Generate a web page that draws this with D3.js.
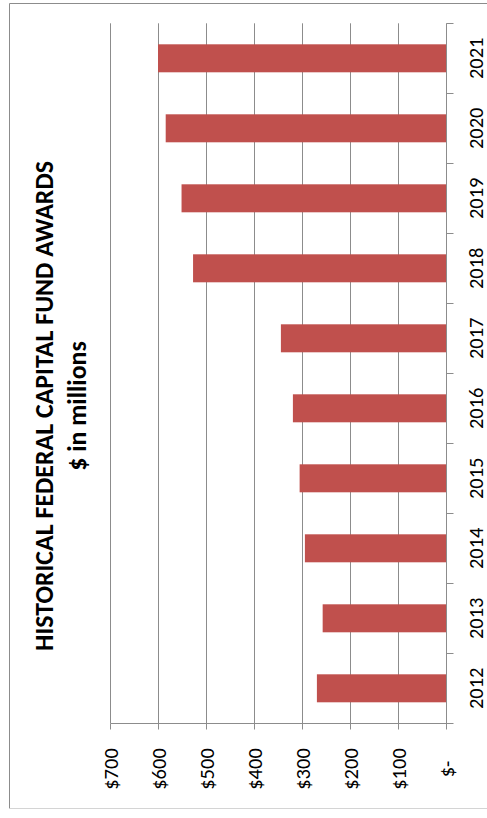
<!DOCTYPE html>
<html><head><meta charset="utf-8">
<script src="https://cdn.jsdelivr.net/npm/d3@7/dist/d3.min.js"></script>
<style>body{margin:0;background:#fff;overflow:hidden}</style>
</head><body><svg id="c" width="487" height="818"></svg>
<script>
const years = ["2012","2013","2014","2015","2016","2017","2018","2019","2020","2021"];
const awards = [270, 258, 295, 306, 320, 345, 528, 552, 585, 601];
const valueTicks = [0, 100, 200, 300, 400, 500, 600, 700];
const valueTickLabels = ["$-", "$100", "$200", "$300", "$400", "$500", "$600", "$700"];
const titleLines = ["HISTORICAL FEDERAL CAPITAL FUND AWARDS", "$ in millions"];

const font = "Carlito, Lato, sans-serif";
const gridColor = "#8c8c8c";
const barColor = "#C0504D";
const tickFont = 20.5;

const svg = d3.select("#c");

// chart frame
svg.append("line").attr("x1", 9.5).attr("x2", 487).attr("y1", 3.5).attr("y2", 3.5).attr("stroke", gridColor);
svg.append("line").attr("x1", 9.5).attr("x2", 9.5).attr("y1", 3.5).attr("y2", 808.5).attr("stroke", gridColor);
svg.append("line").attr("x1", 9.5).attr("x2", 487).attr("y1", 808.5).attr("y2", 808.5).attr("stroke", "#d4d4d4");

// scales (chart is rotated: values run right-to-left, categories top-to-bottom)
const x = d3.scaleLinear().domain([0, 700]).range([446.5, 110.5]);
const y = d3.scaleBand().domain(years.slice().reverse()).range([23.3, 723.3])
  .paddingInner(0.6).paddingOuter(0.3);
const step = y.step();
const plotTop = 23.3, plotBottom = 723.3;

// gridlines
svg.append("g").selectAll("line").data(valueTicks.filter(v => v > 0)).join("line")
  .attr("x1", d => x(d)).attr("x2", d => x(d))
  .attr("y1", plotTop).attr("y2", plotBottom)
  .attr("stroke", gridColor).attr("stroke-width", 1);

// bars
svg.append("g").selectAll("rect").data(years.map((yr, i) => ({yr, v: awards[i]}))).join("rect")
  .attr("x", d => x(d.v)).attr("width", d => x(0) - x(d.v))
  .attr("y", d => y(d.yr)).attr("height", y.bandwidth())
  .attr("fill", barColor);

// value axis (horizontal line at bottom)
svg.append("line").attr("x1", x(700)).attr("x2", x(0) + 6.5)
  .attr("y1", 723.5).attr("y2", 723.5).attr("stroke", gridColor);
svg.append("g").selectAll("line").data(valueTicks).join("line")
  .attr("x1", d => x(d)).attr("x2", d => x(d))
  .attr("y1", 723.5).attr("y2", 729.5).attr("stroke", gridColor);
svg.append("g").selectAll("text").data(valueTicks).join("text")
  .attr("transform", d => `translate(${x(d) + 7.5},769) rotate(-90)`)
  .attr("text-anchor", "middle")
  .attr("font-family", font).attr("font-size", tickFont).attr("fill", "#000")
  .text((d, i) => valueTickLabels[i]);

// category axis (vertical line at right)
svg.append("line").attr("x1", x(0)).attr("x2", x(0))
  .attr("y1", plotTop).attr("y2", plotBottom).attr("stroke", gridColor);
const boundaries = y.domain().map(d => y(d) - (step - y.bandwidth()) / 2);
boundaries.push(boundaries[boundaries.length - 1] + step);
svg.append("g").selectAll("line").data(boundaries).join("line")
  .attr("x1", x(0)).attr("x2", x(0) + 7)
  .attr("y1", d => Math.round(d) + 0.5).attr("y2", d => Math.round(d) + 0.5)
  .attr("stroke", gridColor);
svg.append("g").selectAll("text").data(years).join("text")
  .attr("transform", d => `translate(482.5,${y(d) + y.bandwidth() / 2}) rotate(-90)`)
  .attr("text-anchor", "middle")
  .attr("font-family", font).attr("font-size", tickFont).attr("fill", "#000")
  .text(d => d);

// title
const t1 = svg.append("text")
  .attr("transform", "translate(53,406) rotate(-90)")
  .attr("text-anchor", "middle")
  .attr("font-family", font).attr("font-weight", "bold").attr("font-size", 24)
  .attr("fill", "#000").text(titleLines[0]);
const len = t1.node().getComputedTextLength();
const fs = 24 * 490 / len;
t1.attr("font-size", fs);
svg.append("text")
  .attr("transform", "translate(86,406) rotate(-90)")
  .attr("text-anchor", "middle")
  .attr("font-family", font).attr("font-weight", "bold").attr("font-size", fs)
  .attr("fill", "#000").text(titleLines[1]);
</script>
</body></html>
